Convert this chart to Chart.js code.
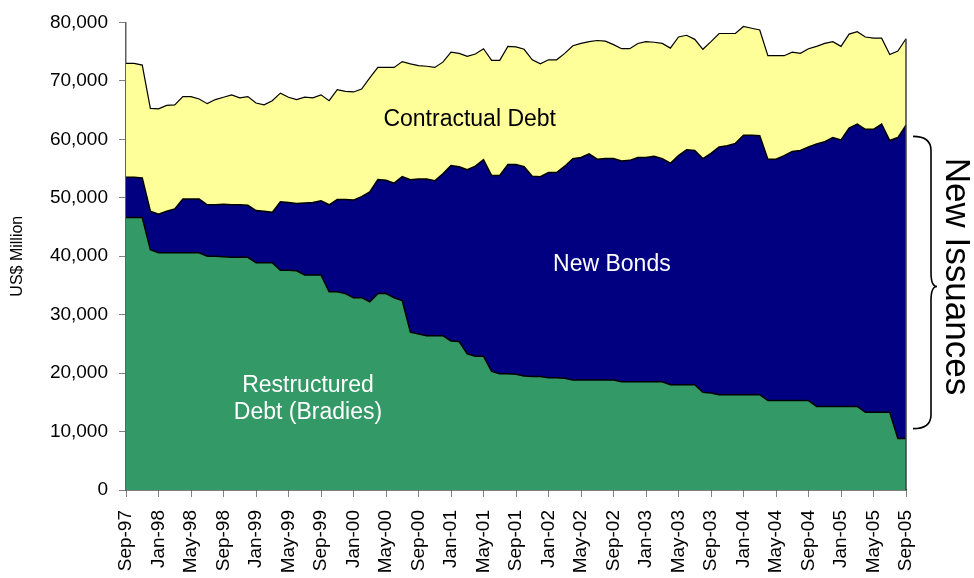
<!DOCTYPE html>
<html>
<head>
<meta charset="utf-8">
<title>External debt composition</title>
<script src="https://cdn.jsdelivr.net/npm/chart.js@4/dist/chart.umd.min.js"></script>
<style>
  html, body { margin: 0; padding: 0; background: #fff; }
  #wrap { width: 974px; height: 578px; }
</style>
</head>
<body>
<div id="wrap"><canvas id="debtChart" width="974" height="578"></canvas></div>
<script>
// monthly series, Sep-97 .. Sep-05, US$ million
var monthNames = ['Jan', 'Feb', 'Mar', 'Apr', 'May', 'Jun', 'Jul', 'Aug', 'Sep', 'Oct', 'Nov', 'Dec'];
var startYear = 1997, startMonth = 8, monthCount = 97;

var bradies = [
  46600, 46600, 46600, 41100, 40600, 40600, 40600, 40600, 40600, 40600,
  40000, 40000, 39900, 39800, 39800, 39800, 38900, 38900, 38900, 37600,
  37600, 37500, 36800, 36800, 36800, 33900, 33900, 33600, 32900, 32900,
  32200, 33600, 33600, 32900, 32400, 27000, 26700, 26400, 26400, 26400,
  25500, 25400, 23300, 22900, 22900, 20300, 19900, 19900, 19800, 19500,
  19400, 19400, 19200, 19200, 19100, 18800, 18800, 18800, 18800, 18800,
  18800, 18500, 18500, 18500, 18500, 18500, 18500, 18000, 18000, 18000,
  18000, 16700, 16600, 16300, 16300, 16300, 16300, 16300, 16300, 15300,
  15300, 15300, 15300, 15300, 15300, 14300, 14300, 14300, 14300, 14300,
  14300, 13300, 13300, 13300, 13300, 8800, 8800
];

var newBonds = [
  6900, 6900, 6800, 6600, 6600, 7100, 7500, 9200, 9200, 9200,
  8800, 8800, 9000, 9000, 9000, 8900, 8900, 8800, 8600, 11700,
  11600, 11500, 12300, 12400, 12700, 14900, 15800, 16100, 16700, 17300,
  18800, 19500, 19400, 19600, 21200, 26100, 26500, 26800, 26500, 27700,
  30000, 29900, 31500, 32500, 33600, 33500, 33900, 35800, 35900, 35800,
  34300, 34200, 35100, 35100, 36300, 37900, 38100, 38700, 37800, 37900,
  37900, 37800, 37900, 38400, 38400, 38600, 38200, 37900, 39200, 40200,
  40100, 40000, 41000, 42400, 42600, 43000, 44400, 44400, 44300, 41300,
  41300, 41900, 42600, 42800, 43400, 44900, 45300, 46000, 45600, 47600,
  48300, 48400, 48400, 49300, 46500, 51500, 53600
];

var contractual = [
  19500, 19500, 19300, 17600, 18000, 18100, 17800, 17500, 17500, 17100,
  17300, 18000, 18300, 18800, 18300, 18600, 18400, 18200, 19100, 18600,
  18000, 17800, 18100, 17900, 18100, 17800, 18800, 18500, 18500, 18400,
  19500, 19200, 19300, 19800, 19700, 19800, 19400, 19300, 19400, 19100,
  19400, 19400, 19400, 19200, 19000, 19700, 19700, 20200, 20100, 20100,
  19900, 19300, 19300, 19300, 19300, 19300, 19500, 19200, 20300, 20100,
  19500, 19200, 19100, 19500, 19800, 19500, 19700, 19700, 20300, 19600,
  19000, 18700, 19100, 19400, 19200, 18800, 18600, 18300, 18100, 17700,
  17700, 17100, 17000, 16600, 16800, 16700, 16800, 16400, 16000, 16100,
  15800, 15800, 15600, 14700, 14700, 14800, 14800
];

var yTicks = [0, 10000, 20000, 30000, 40000, 50000, 60000, 70000, 80000];
var labelEvery = 4;

var categories = [];
for (var i = 0; i < monthCount; i++) {
  var m = (startMonth + i) % 12;
  var yr = startYear + Math.floor((startMonth + i) / 12);
  categories.push(monthNames[m] + '-' + String(yr % 100).padStart(2, '0'));
}

var FONT = '"Liberation Sans", Arial, sans-serif';

// text drawn inside the stacked areas (index / value positions)
var areaLabels = [
  { lines: ['Contractual Debt'], at: 42.3, value: 63400, color: '#000000' },
  { lines: ['New Bonds'], at: 59.8, value: 38600, color: '#ffffff' },
  { lines: ['Restructured', 'Debt (Bradies)'], at: 22.4, value: 15500, color: '#ffffff' }
];

var overlayPlugin = {
  id: 'overlay',
  afterDatasetsDraw: function(chart) {
    var ctx = chart.ctx;
    var xs = chart.scales.x, ys = chart.scales.y;
    var area = chart.chartArea;
    ctx.save();

    // closing edge at the last month
    var last = categories.length - 1;
    var total = bradies[last] + newBonds[last] + contractual[last];
    ctx.strokeStyle = '#404040';
    ctx.lineWidth = 1.5;
    ctx.beginPath();
    ctx.moveTo(xs.getPixelForValue(last), ys.getPixelForValue(0));
    ctx.lineTo(xs.getPixelForValue(last), ys.getPixelForValue(total));
    ctx.stroke();

    // area names
    ctx.font = '23px ' + FONT;
    ctx.textAlign = 'center';
    ctx.textBaseline = 'middle';
    areaLabels.forEach(function(lbl) {
      var cx = xs.getPixelForValue(lbl.at);
      var cy = ys.getPixelForValue(lbl.value);
      var lh = 27;
      var y0 = cy - (lbl.lines.length - 1) * lh / 2;
      ctx.fillStyle = lbl.color;
      lbl.lines.forEach(function(t, k) {
        ctx.fillText(t, cx, y0 + k * lh);
      });
    });

    // brace grouping the new issuances
    var top = ys.getPixelForValue(60500);
    var bot = ys.getPixelForValue(10500);
    var mid = (top + bot) / 2 + 4;
    var xe = area.right + 7, xstem = area.right + 25, xc = area.right + 31;
    var r = 14;
    ctx.strokeStyle = '#000';
    ctx.lineWidth = 1.6;
    ctx.beginPath();
    ctx.moveTo(xe, top);
    ctx.quadraticCurveTo(xstem, top, xstem, top + r);
    ctx.lineTo(xstem, mid - r);
    ctx.quadraticCurveTo(xstem, mid, xc, mid);
    ctx.quadraticCurveTo(xstem, mid, xstem, mid + r);
    ctx.lineTo(xstem, bot - r);
    ctx.quadraticCurveTo(xstem, bot, xe, bot);
    ctx.stroke();

    ctx.translate(area.right + 50, (top + bot) / 2 - 6);
    ctx.rotate(Math.PI / 2);
    ctx.fillStyle = '#000';
    ctx.font = '35px ' + FONT;
    ctx.fillText('New Issuances', 0, 0);
    ctx.restore();
  }
};

var chart = new Chart(document.getElementById('debtChart').getContext('2d'), {
  type: 'line',
  data: {
    labels: categories,
    datasets: [
      {
        label: 'Restructured Debt (Bradies)',
        data: bradies,
        backgroundColor: '#339966',
        borderColor: '#000000',
        borderWidth: 1.5,
        fill: 'origin'
      },
      {
        label: 'New Bonds',
        data: newBonds,
        backgroundColor: '#000080',
        borderColor: '#000000',
        borderWidth: 1.5,
        fill: '-1'
      },
      {
        label: 'Contractual Debt',
        data: contractual,
        backgroundColor: '#FFFF99',
        borderColor: '#000000',
        borderWidth: 1.2,
        fill: '-1'
      }
    ]
  },
  options: {
    responsive: false,
    animation: false,
    layout: { padding: { left: 0, right: 68, top: 18, bottom: 0 } },
    elements: {
      point: { radius: 0, hoverRadius: 0 },
      line: { tension: 0 }
    },
    plugins: {
      legend: { display: false },
      tooltip: { enabled: false }
    },
    scales: {
      x: {
        type: 'category',
        offset: false,
        afterFit: function(scale) { scale.height = 88; },
        grid: {
          drawOnChartArea: false,
          drawTicks: true,
          tickLength: 7,
          color: function(c) { return c.index % labelEvery === 0 ? '#808080' : 'rgba(0,0,0,0)'; }
        },
        border: { display: true, color: '#000000', width: 1.5 },
        ticks: {
          autoSkip: false,
          maxRotation: 90,
          minRotation: 90,
          padding: 13,
          color: '#000000',
          font: { family: FONT, size: 19 },
          callback: function(v, idx) { return idx % labelEvery === 0 ? categories[idx] : ''; }
        }
      },
      y: {
        stacked: true,
        min: yTicks[0],
        max: yTicks[yTicks.length - 1],
        afterFit: function(scale) { scale.width = 126; },
        afterBuildTicks: function(scale) {
          scale.ticks = yTicks.map(function(v) { return { value: v }; });
        },
        grid: {
          drawOnChartArea: false,
          drawTicks: true,
          tickLength: 7,
          color: '#808080'
        },
        border: { display: true, color: '#606060', width: 1.5 },
        ticks: {
          padding: 11,
          color: '#000000',
          font: { family: FONT, size: 19 },
          callback: function(v) { return v.toLocaleString('en-US'); }
        },
        title: {
          display: true,
          text: 'US$ Million',
          color: '#000000',
          font: { family: FONT, size: 16 },
          padding: { top: 8, bottom: 0 }
        }
      }
    }
  },
  plugins: [overlayPlugin]
});
</script>
</body>
</html>
